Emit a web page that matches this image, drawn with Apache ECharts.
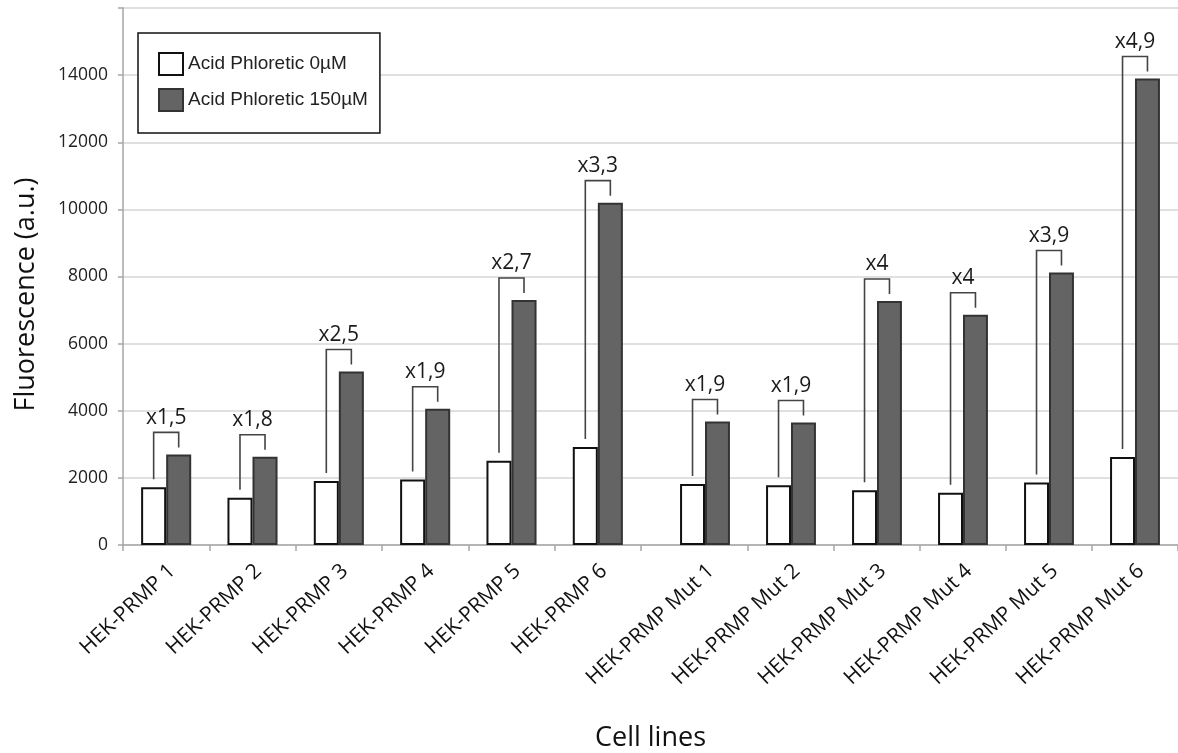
<!DOCTYPE html>
<html>
<head>
<meta charset="utf-8">
<script src="https://cdn.jsdelivr.net/npm/echarts@6/dist/echarts.min.js"></script>
<style>
html,body{margin:0;padding:0;background:#fff;}
#chart{width:1178px;height:753px;}
</style>
</head>
<body>
<div id="chart"></div>
<script>
// ---- data ----
const categoriesA = ['HEK-PRMP 1', 'HEK-PRMP 2', 'HEK-PRMP 3', 'HEK-PRMP 4', 'HEK-PRMP 5', 'HEK-PRMP 6'];
const categoriesB = ['HEK-PRMP Mut 1', 'HEK-PRMP Mut 2', 'HEK-PRMP Mut 3', 'HEK-PRMP Mut 4', 'HEK-PRMP Mut 5', 'HEK-PRMP Mut 6'];
const acid0A = [1720, 1410, 1910, 1950, 2510, 2920];
const acid0B = [1820, 1780, 1630, 1560, 1860, 2620];
const acid150A = [2700, 2630, 5170, 4060, 7300, 10200];
const acid150B = [3680, 3650, 7270, 6860, 8120, 13900];
const foldA = ['x1,5', 'x1,8', 'x2,5', 'x1,9', 'x2,7', 'x3,3'];
const foldB = ['x1,9', 'x1,9', 'x4', 'x4', 'x3,9', 'x4,9'];
const seriesNames = ['Acid Phloretic 0\u00B5M', 'Acid Phloretic 150\u00B5M'];
const yMin = 0, yMax = 16000, yInterval = 2000;
const yLabelMax = 14000; // highest labelled tick
const xTitle = 'Cell lines';
const yTitle = 'Fluorescence (a.u.)';

// ---- chart ----
const chart = echarts.init(document.getElementById('chart'), null, {renderer: 'canvas'});
const BAR_FRAC = 0.29;
const axisGray = '#a6a6a6';
const LABEL_SHIFT = 6; // rotated labels sit slightly right of the tick centre, as in the reference

function bracketData(w, d, f) {
  return w.map((v, i) => [i, v, d[i], f[i]]);
}
function renderBracket(params, api) {
  const i = api.value(0);
  const band = api.size([1, 0])[0];
  const bw = band * BAR_FRAC;
  const cx = api.coord([i, 0])[0];
  const wx = cx - bw / 2, dx = cx + bw / 2;
  const wTop = api.coord([i, api.value(1)])[1];
  const dTop = api.coord([i, api.value(2)])[1];
  const top = dTop - 22;
  const label = api.value(3);
  return {
    type: 'group',
    children: [
      {
        type: 'polyline',
        shape: {points: [[wx, wTop - 8], [wx, top], [dx, top], [dx, dTop - 7]]},
        style: {stroke: '#444', lineWidth: 1.6, fill: null}
      },
      {
        type: 'text',
        x: cx, y: top - 4,
        style: {
          text: String(label),
          fontSize: 21, fontFamily: 'Open Sans',
          fill: '#1a1a1a',
          align: 'center', verticalAlign: 'bottom',
          textAlign: 'center', textVerticalAlign: 'bottom'
        }
      }
    ]
  };
}

function catAxis(gridIndex, data, hideFirstTick) {
  return {
    type: 'category', gridIndex: gridIndex, data: data,
    boundaryGap: true,
    axisLine: {show: false},
    axisTick: {
      show: true, length: 6, alignWithLabel: false,
      lineStyle: {color: axisGray, width: 1.5},
      interval: hideFirstTick ? function (idx) { return idx !== 0; } : 0
    },
    axisLabel: {show: false},
    splitLine: {show: false}
  };
}
function labelAxis(gridIndex, data) {
  return {
    type: 'category', gridIndex: gridIndex, data: data,
    boundaryGap: true,
    axisLine: {show: false}, axisTick: {show: false}, splitLine: {show: false},
    axisLabel: {
      interval: 0, rotate: 43, fontSize: 21, fontFamily: 'Open Sans',
      color: '#111', margin: 23
    }
  };
}
function hiddenY(gridIndex) {
  return {type: 'value', gridIndex: gridIndex, min: yMin, max: yMax, interval: yInterval, show: false, splitLine: {show: false}};
}
function makeGrid(left, width) {
  const g = {left: left, top: 8, bottom: 208, containLabel: false, outerBoundsMode: 'none'};
  if (width === null) { g.right = 0; } else { g.width = width; }
  return g;
}

const whiteStyle = {color: '#ffffff', borderColor: '#111111', borderWidth: 2};
const darkStyle = {color: '#646464', borderColor: '#333333', borderWidth: 2};

const option = {
  animation: false,
  backgroundColor: '#ffffff',
  grid: [
    makeGrid(123, null),
    makeGrid(123, 518),
    makeGrid(662, 516),
    makeGrid(123 + LABEL_SHIFT, 518),
    makeGrid(662 + LABEL_SHIFT, 516)
  ],
  legend: {
    data: seriesNames,
    orient: 'vertical',
    left: 138, top: 33,
    padding: [19, 12, 21, 20],
    itemWidth: 24, itemHeight: 22, itemGap: 12,
    icon: 'rect',
    borderColor: '#111', borderWidth: 1.5,
    backgroundColor: '#fff',
    textStyle: {fontFamily: 'Liberation Sans', fontSize: 19, color: '#222'},
    z: 10
  },
  xAxis: [
    {
      type: 'value', gridIndex: 0, min: 0, max: 1,
      axisLine: {show: true, onZero: false, lineStyle: {color: axisGray, width: 1.5}},
      axisTick: {show: false}, axisLabel: {show: false}, splitLine: {show: false},
      name: xTitle, nameLocation: 'middle', nameGap: 180,
      nameTextStyle: {fontFamily: 'Open Sans', fontSize: 27, color: '#111'}
    },
    catAxis(1, categoriesA, false),
    catAxis(2, categoriesB, true),
    labelAxis(3, categoriesA),
    labelAxis(4, categoriesB)
  ],
  yAxis: [
    {
      type: 'value', gridIndex: 0, min: yMin, max: yMax, interval: yInterval,
      axisLine: {show: true, lineStyle: {color: axisGray, width: 1.5}},
      axisTick: {show: true, length: 5, lineStyle: {color: axisGray, width: 1.5}},
      axisLabel: {
        fontFamily: 'Open Sans', fontSize: 17.5, color: '#222', margin: 15,
        formatter: function (v) { return v > yLabelMax ? '' : String(v); }
      },
      splitLine: {show: true, lineStyle: {color: '#d6d6d6', width: 1.5}},
      name: yTitle, nameLocation: 'middle', nameRotate: 90, nameGap: 83,
      nameTextStyle: {fontFamily: 'Open Sans', fontSize: 27, color: '#111', padding: [0, 36, 0, 0]}
    },
    hiddenY(1),
    hiddenY(2),
    hiddenY(3),
    hiddenY(4)
  ],
  series: [
    {name: seriesNames[0], type: 'bar', xAxisIndex: 1, yAxisIndex: 1, data: acid0A, barWidth: '29%', barGap: '0%', itemStyle: whiteStyle},
    {name: seriesNames[1], type: 'bar', xAxisIndex: 1, yAxisIndex: 1, data: acid150A, barWidth: '29%', barGap: '0%', itemStyle: darkStyle},
    {name: seriesNames[0], type: 'bar', xAxisIndex: 2, yAxisIndex: 2, data: acid0B, barWidth: '29%', barGap: '0%', itemStyle: whiteStyle},
    {name: seriesNames[1], type: 'bar', xAxisIndex: 2, yAxisIndex: 2, data: acid150B, barWidth: '29%', barGap: '0%', itemStyle: darkStyle},
    {type: 'custom', xAxisIndex: 1, yAxisIndex: 1, data: bracketData(acid0A, acid150A, foldA), renderItem: renderBracket, clip: false, silent: true, z: 5},
    {type: 'custom', xAxisIndex: 2, yAxisIndex: 2, data: bracketData(acid0B, acid150B, foldB), renderItem: renderBracket, clip: false, silent: true, z: 5}
  ]
};
chart.setOption(option);
</script>
</body>
</html>
